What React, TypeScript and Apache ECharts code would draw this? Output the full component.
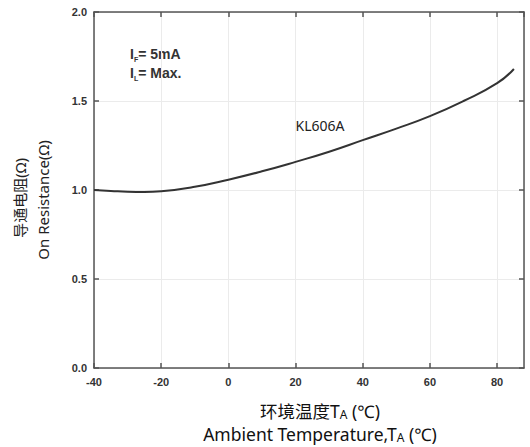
import React, { useEffect, useRef } from "react";
import * as echarts from "echarts";

const temps = [-40, -35, -30, -25, -20, -10, 0, 10, 20, 30, 40, 50, 60, 70, 80, 85];
const resistance = [1.0, 0.995, 0.99, 0.989, 0.993, 1.018, 1.058, 1.105, 1.158, 1.215, 1.28, 1.345, 1.415, 1.5, 1.6, 1.68];
const xTicks = [-40, -20, 0, 20, 40, 60, 80];
const yTicks = [0, 0.5, 1.0, 1.5, 2.0];
const seriesName = "KL606A";

const narrow = "'Liberation Sans Narrow', 'Liberation Sans', Arial, sans-serif";
const sans = "'Noto Sans', 'Noto Sans CJK SC', sans-serif";

export default function App() {
  const ref = useRef<HTMLDivElement>(null);
  useEffect(() => {
    if (!ref.current) return;
    const chart = echarts.init(ref.current, undefined, { renderer: "svg" });
    const frame = { show: true, onZero: false, lineStyle: { color: "#555", width: 1.5 } };
    const tickIn = { show: true, inside: true, length: 5, lineStyle: { color: "#555", width: 1.5 } };
    const titleRich = {
      n: { fontFamily: sans, fontSize: 17.5, fill: "#111", lineHeight: 20 },
      s: { fontFamily: sans, fontSize: 12, fill: "#111", lineHeight: 14, padding: [6, 0, 0, 0] },
    };
    chart.setOption({
      animation: false,
      backgroundColor: "#fff",
      grid: { left: 94, right: 6, top: 12, bottom: 79 },
      xAxis: [
        {
          type: "value", min: -40, max: 88, interval: 20,
          axisLine: frame, axisTick: tickIn,
          axisLabel: {
            color: "#333", fontWeight: "bold", fontSize: 11, fontFamily: narrow, margin: 8,
            showMaxLabel: false,
            formatter: (v: number) => (xTicks.includes(v) ? String(v) : ""),
          },
          splitLine: { show: true, lineStyle: { color: "#ebebeb", width: 1 } },
        },
        {
          type: "value", position: "top", min: -40, max: 88, interval: 20,
          axisLine: frame, axisTick: tickIn, axisLabel: { show: false }, splitLine: { show: false },
        },
      ],
      yAxis: [
        {
          type: "value", min: 0, max: 2, interval: 0.5,
          axisLine: frame, axisTick: tickIn,
          axisLabel: {
            color: "#333", fontWeight: "bold", fontSize: 11, fontFamily: narrow, margin: 7,
            formatter: (v: number) => (yTicks.includes(v) ? v.toFixed(1) : ""),
          },
          splitLine: { show: true, lineStyle: { color: "#ebebeb", width: 1 } },
        },
        {
          type: "value", position: "right", min: 0, max: 2, interval: 0.5,
          axisLine: frame, axisTick: tickIn, axisLabel: { show: false }, splitLine: { show: false },
        },
      ],
      series: [
        {
          name: seriesName,
          type: "line",
          smooth: true,
          symbol: "none",
          data: temps.map((t, i) => [t, resistance[i]]),
          lineStyle: { color: "#333", width: 2 },
        },
      ],
      graphic: [
        {
          type: "text", left: 130, top: 45,
          style: {
            text: "{b|I}{s|F}{b|= 5mA}\n{b|I}{s|L}{b|= Max.}",
            rich: {
              b: { fontFamily: narrow, fontWeight: "bold", fontSize: 14, fill: "#333", lineHeight: 19 },
              s: { fontFamily: narrow, fontWeight: "bold", fontSize: 7, fill: "#333", lineHeight: 8, padding: [11, 0, 0, 0] },
            },
          },
        },
        {
          type: "text", x: 320, y: 125,
          style: { text: seriesName, font: "14px " + sans, fill: "#222", align: "center", verticalAlign: "middle" },
        },
        {
          type: "text", x: 320, y: 411,
          style: { text: "{n|环境温度T}{s|A}{n| (℃)}", align: "center", verticalAlign: "middle", rich: titleRich },
        },
        {
          type: "text", x: 320, y: 434,
          style: { text: "{n|Ambient Temperature,T}{s|A}{n| (℃)}", align: "center", verticalAlign: "middle", rich: titleRich },
        },
        {
          type: "text", x: 20, y: 198, rotation: Math.PI / 2,
          style: { text: "导通电阻(Ω)", font: "15px " + sans, fill: "#222", align: "center", verticalAlign: "middle" },
        },
        {
          type: "text", x: 43, y: 200, rotation: Math.PI / 2,
          style: { text: "On Resistance(Ω)", font: "15px " + sans, fill: "#222", align: "center", verticalAlign: "middle" },
        },
      ],
    });
    return () => chart.dispose();
  }, []);
  return <div ref={ref} style={{ position: "fixed", left: 0, top: 0, width: 530, height: 447 }} />;
}
